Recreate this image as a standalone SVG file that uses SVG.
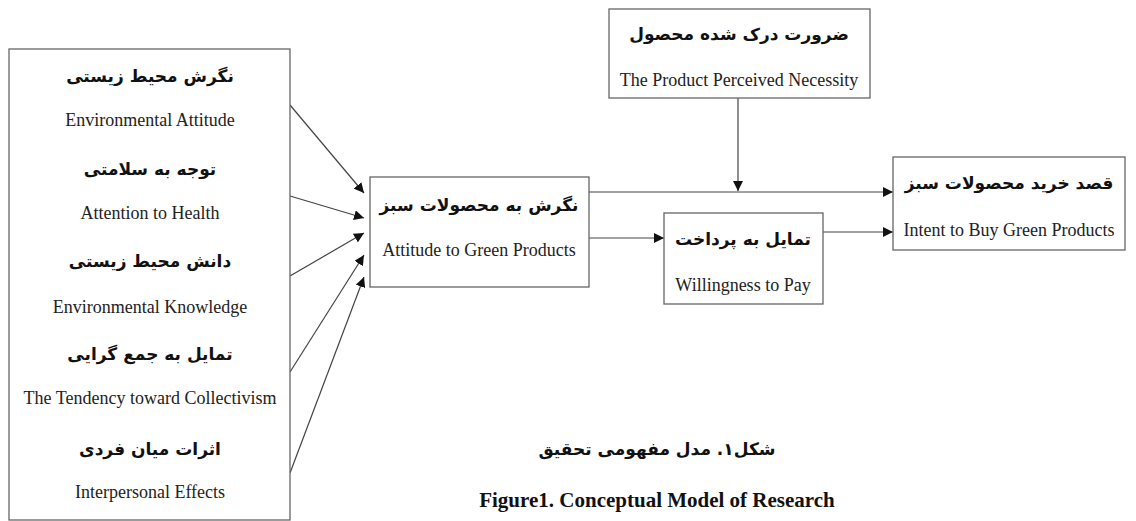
<svg xmlns="http://www.w3.org/2000/svg" width="1136" height="521" viewBox="0 0 1136 521">
<style>
.box{fill:#fff;stroke:#666;stroke-width:1.3}
.fa{font-family:"DejaVu Sans",sans-serif;font-weight:bold;font-size:17px;fill:#111;text-anchor:middle;direction:rtl}
.en{font-family:"Liberation Serif",serif;font-size:18px;fill:#222;text-anchor:middle}
.cap{font-family:"Liberation Serif",serif;font-weight:bold;font-size:21px;fill:#111;text-anchor:middle}
.ln{stroke:#444;stroke-width:1.2;fill:none;marker-end:url(#ah)}
</style>
<defs>
<marker id="ah" viewBox="0 0 10 10" refX="10" refY="5" markerWidth="10" markerHeight="10" markerUnits="userSpaceOnUse" orient="auto">
<path d="M0,0 L10,5 L0,10 z" fill="#111"/>
</marker>
</defs>
<rect width="1136" height="521" fill="#fff"/>
<g id="connectors">
<line class="ln" x1="290" y1="105" x2="364" y2="193"/>
<line class="ln" x1="290" y1="196" x2="364" y2="218"/>
<line class="ln" x1="290" y1="276" x2="364" y2="233"/>
<line class="ln" x1="290" y1="372" x2="364" y2="255"/>
<line class="ln" x1="290" y1="473" x2="364" y2="277"/>
<line class="ln" x1="589" y1="192" x2="893" y2="192"/>
<line class="ln" x1="738" y1="98" x2="738" y2="191"/>
<line class="ln" x1="589" y1="238" x2="664" y2="238"/>
<line class="ln" x1="823" y1="232" x2="893" y2="232"/>
</g>
<g id="node-left">
<rect class="box" x="9" y="49" width="281" height="471"/>
<text class="fa" x="150" y="82">نگرش محیط زیستی</text>
<text class="en" x="150" y="126">Environmental Attitude</text>
<text class="fa" x="150" y="175">توجه به سلامتی</text>
<text class="en" x="150" y="219">Attention to Health</text>
<text class="fa" x="150" y="267">دانش محیط زیستی</text>
<text class="en" x="150" y="313">Environmental Knowledge</text>
<text class="fa" x="150" y="360">تمایل به جمع گرایی</text>
<text class="en" x="150" y="404">The Tendency toward Collectivism</text>
<text class="fa" x="150" y="455">اثرات میان فردی</text>
<text class="en" x="150" y="498">Interpersonal Effects</text>
</g>
<g id="node-attitude">
<rect class="box" x="370" y="177" width="219" height="110"/>
<text class="fa" x="479" y="211">نگرش به محصولات سبز</text>
<text class="en" x="479" y="256">Attitude to Green Products</text>
</g>
<g id="node-necessity">
<rect class="box" x="609" y="9" width="261" height="89"/>
<text class="fa" x="739" y="40">ضرورت درک شده محصول</text>
<text class="en" x="739" y="86">The Product Perceived Necessity</text>
</g>
<g id="node-willingness">
<rect class="box" x="664" y="213" width="159" height="91"/>
<text class="fa" x="743" y="245">تمایل به پرداخت</text>
<text class="en" x="743" y="291">Willingness to Pay</text>
</g>
<g id="node-intent">
<rect class="box" x="893" y="157" width="232" height="93"/>
<text class="fa" x="1009" y="189">قصد خرید محصولات سبز</text>
<text class="en" x="1009" y="236">Intent to Buy Green Products</text>
</g>
<g id="caption">
<text class="fa" x="657" y="455">شکل۱. مدل مفهومی تحقیق</text>
<text class="cap" x="657" y="507">Figure1. Conceptual Model of Research</text>
</g>
</svg>
